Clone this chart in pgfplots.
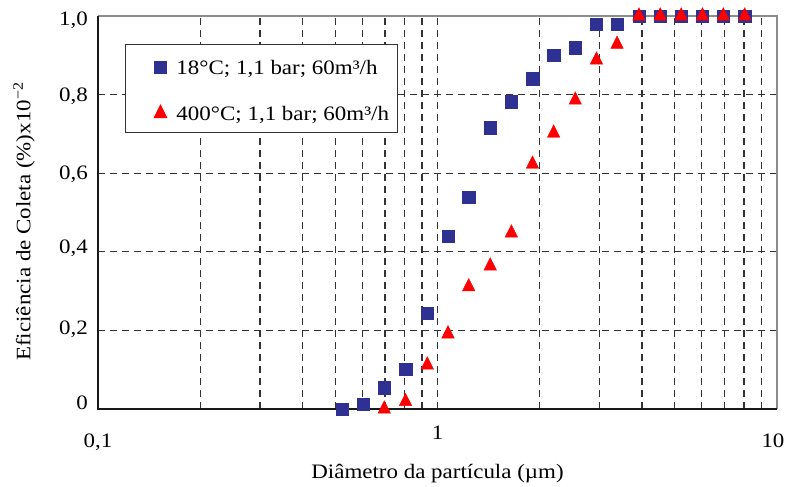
\documentclass[border=0pt]{standalone}
\usepackage{fontspec}
\setmainfont{Liberation Serif}[FakeStretch=1.12]
\usepackage{pgfplots}
\pgfplotsset{compat=1.18}
\definecolor{sqblue}{RGB}{46,49,146}
\definecolor{trired}{RGB}{255,0,0}
\newcommand\fs{\fontsize{20.5}{24}\selectfont}
\begin{document}
\begin{tikzpicture}
\begin{axis}[
  scale only axis, width=679pt, height=393pt,
  xmode=log, xmin=0.1, xmax=10, ymin=0, ymax=1,
  clip=false,
  axis line style={draw=none},
  xtick={0.1,1,10},
  xticklabels={{0,1},{\raisebox{8pt}[0pt][0pt]{1}},{\hspace*{-8pt}10}},
  minor xtick={0.2,0.3,0.4,0.5,0.6,0.7,0.8,0.9,2,3,4,5,6,7,8,9},
  ytick={0,0.2,0.4,0.6,0.8,1},
  yticklabels={{\raisebox{5.5pt}[0pt][0pt]{0}},{\raisebox{2pt}[0pt][0pt]{0,2}},{\raisebox{4.5pt}[0pt][0pt]{0,4}},{0,6},{0,8},{\raisebox{-3.5pt}[0pt][0pt]{1,0}}},
  major tick length=0pt, minor tick length=0pt,
  xmajorgrids, xminorgrids, ymajorgrids,
  grid style={black!80, line width=1.25pt, dash pattern=on 7pt off 5pt},
  ticklabel style={font=\fs},
  yticklabel style={anchor=east, inner sep=0pt, text height=13pt, text depth=0pt, xshift=-10pt},
  xticklabel style={anchor=north, inner sep=0pt, text height=13pt, text depth=0pt, yshift=-25pt},
  xlabel={Diâmetro da partícula (µm)},
  ylabel={Eficiência de Coleta (\%)x10\textsuperscript{−2}},
  xlabel style={font=\fs, at={(axis description cs:0.5,0)}, anchor=north, inner sep=0pt, yshift=-55pt},
  ylabel style={font=\fs, at={(axis description cs:-0.109,0.477)}, anchor=center, inner sep=0pt},
  legend cell align=left,
  legend image code/.code={\draw[#1] plot coordinates {(0pt,0pt)}; \path[draw=none,fill=none] (-26pt,-5pt) rectangle (8pt,11pt);},
  legend style={at={([xshift=27pt,yshift=-28pt]axis description cs:0,1)}, anchor=north west,
    draw=black!80, line width=1pt, fill=white, font=\fs,
    inner xsep=9pt, inner ysep=12pt, row sep=28pt, column sep=8pt,
    nodes={inner sep=0pt, text depth=0pt}},
]
\draw[black!45, line width=2pt] (rel axis cs:0,1) -- (rel axis cs:1,1) -- (rel axis cs:1,0);
\draw[black!90, line width=2pt] (rel axis cs:0,1) -- (rel axis cs:0,0) -- (rel axis cs:1,0);
\addplot[only marks, mark=square*, mark size=6.2pt, color=sqblue] table {
x y
0.523 0
0.603 0.012
0.697 0.054
0.805 0.101
0.933 0.243
1.074 0.440
1.236 0.539
1.430 0.716
1.651 0.782
1.905 0.840
2.198 0.901
2.546 0.919
2.940 0.979
3.380 0.979
3.920 1.0
4.530 1.0
5.220 1.0
6.030 1.0
6.950 1.0
8.030 1.0
};
\addlegendentry{18°C; 1,1 bar; 60m³/h}
\addplot[only marks, mark=triangle*, mark size=7.2pt, mark options={yscale=1.15}, color=trired] table {
x y
0.697 0
0.805 0.019
0.933 0.112
1.074 0.191
1.236 0.311
1.430 0.364
1.651 0.448
1.905 0.623
2.198 0.702
2.546 0.786
2.940 0.888
3.380 0.928
3.920 1.0
4.530 1.0
5.220 1.0
6.030 1.0
6.950 1.0
8.030 1.0
};
\addlegendentry{400°C; 1,1 bar; 60m³/h}
\end{axis}
\pgfresetboundingbox
\path[use as bounding box] ([xshift=-98pt,yshift=-78pt]current axis.south west) rectangle ++(788pt,487pt);
\end{tikzpicture}
\end{document}
